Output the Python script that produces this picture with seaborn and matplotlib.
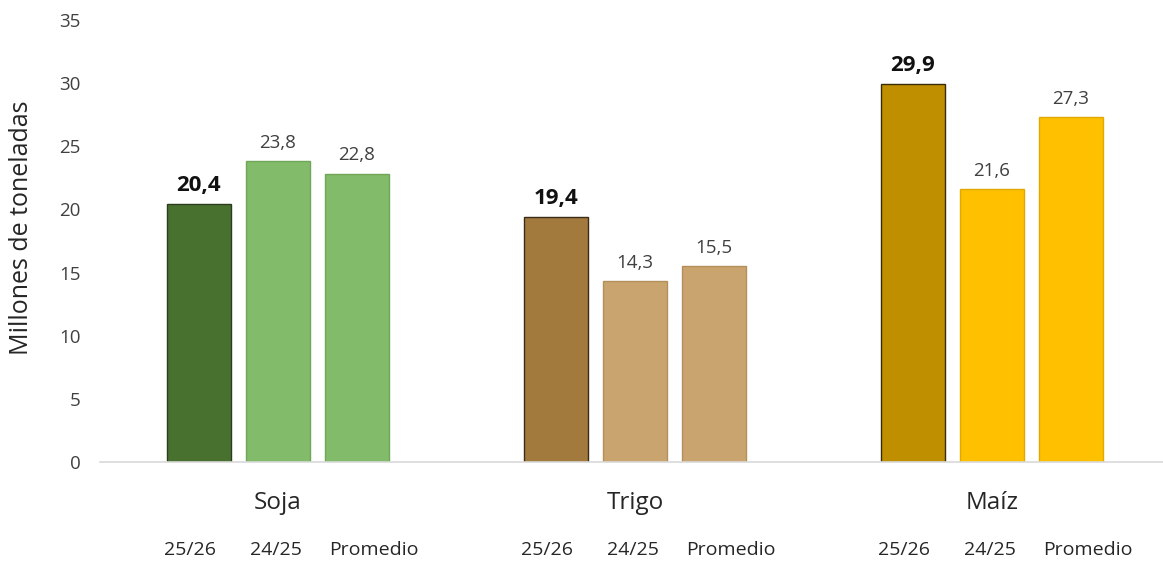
import matplotlib
matplotlib.use("Agg")
import matplotlib.pyplot as plt
import seaborn as sns
import pandas as pd

crops = ["Soja", "Trigo", "Maíz"]
campaigns = ["25/26", "24/25", "Promedio"]
soja = [20.4, 23.8, 22.8]
trigo = [19.4, 14.3, 15.5]
maiz = [29.9, 21.6, 27.3]
yticks = [0, 5, 10, 15, 20, 25, 30, 35]

fill_colors = {
    "Soja": ["#48702f", "#82bb6a", "#82bb6a"],
    "Trigo": ["#a27a3e", "#c9a46e", "#c9a46e"],
    "Maíz": ["#bf8f00", "#ffc000", "#ffc000"],
}
edge_colors = {
    "Soja": ["#2a3d1c", "#6fa657", "#6fa657"],
    "Trigo": ["#3a2c18", "#b38f5c", "#b38f5c"],
    "Maíz": ["#3a2c08", "#e0a800", "#e0a800"],
}

rows = []
for crop, vals in zip(crops, [soja, trigo, maiz]):
    for camp, v in zip(campaigns, vals):
        rows.append({"crop": crop, "campaign": camp, "value": v})
df = pd.DataFrame(rows)

sns.set_theme(style="white")
plt.rcParams["font.family"] = ["Open Sans", "Liberation Sans", "DejaVu Sans"]

fig = plt.figure(figsize=(11.63, 5.63), dpi=100)
ax = fig.add_axes([100 / 1163, 101 / 563, 1063 / 1163, 442 / 563])

sns.barplot(data=df, x="crop", y="value", hue="campaign", order=crops,
            hue_order=campaigns, width=0.664, gap=0.2, ax=ax,
            legend=False, errorbar=None)

for hi, cont in enumerate(ax.containers):
    for ci, bar in enumerate(cont):
        crop = crops[ci]
        bar.set_facecolor(fill_colors[crop][hi])
        bar.set_edgecolor(edge_colors[crop][hi])
        bar.set_linewidth(1.0)
        h = bar.get_height()
        xc = bar.get_x() + bar.get_width() / 2
        label = f"{h:.1f}".replace(".", ",")
        if hi == 0:
            ax.annotate(label, (xc, h), xytext=(0, 6), textcoords="offset points",
                        ha="center", va="bottom", fontsize=16, fontweight="bold",
                        color="#111111")
        else:
            ax.annotate(label, (xc, h), xytext=(0, 7), textcoords="offset points",
                        ha="center", va="bottom", fontsize=13.5, color="#404040")
        offs = [-0.025, -0.005, 0.048][hi]
        ax.text(xc + offs, -0.2, campaigns[hi], transform=ax.get_xaxis_transform(),
                ha="center", va="center", fontsize=14, color="#262626")

ax.set_xlim(-0.4986, 2.479)
ax.set_ylim(0, 35)
ax.set_yticks(yticks)
ax.set_yticklabels([str(t) for t in yticks], fontsize=13.5, color="#404040")
ax.tick_params(axis="y", length=0, pad=14)
ax.tick_params(axis="x", length=0, pad=21, labelsize=17.5, labelcolor="#262626")
ax.set_xlabel("")
ax.set_ylabel("Millones de toneladas", fontsize=18, color="#262626")
ax.yaxis.set_label_coords(-0.062, 0.53)
for s in ["top", "right", "left"]:
    ax.spines[s].set_visible(False)
ax.spines["bottom"].set_color("#d9d9d9")
ax.spines["bottom"].set_linewidth(1.2)

fig.savefig("out.png", dpi=100)
